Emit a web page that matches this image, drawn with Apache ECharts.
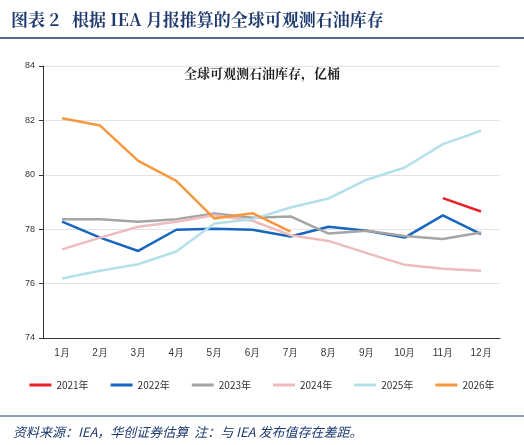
<!DOCTYPE html><html><head><meta charset="utf-8"><script src="https://cdn.jsdelivr.net/npm/echarts@6/dist/echarts.min.js"></script>
<style>body{margin:0;background:#fff}#c{width:524px;height:445px}</style></head><body><div id="c"></div><script>
const months=['1月','2月','3月','4月','5月','6月','7月','8月','9月','10月','11月','12月'];
const y2021=[null,null,null,null,null,null,null,null,null,null,79.14,78.65];
const y2022=[78.28,77.69,77.20,77.98,78.02,77.98,77.73,78.09,77.94,77.69,78.51,77.82];
const y2023=[78.37,78.37,78.27,78.37,78.58,78.42,78.47,77.84,77.94,77.75,77.64,77.88];
const y2024=[77.26,77.69,78.09,78.27,78.51,78.31,77.78,77.57,77.12,76.69,76.55,76.47];
const y2025=[76.19,76.47,76.71,77.18,78.21,78.37,78.80,79.13,79.82,80.27,81.13,81.62];
const y2026=[82.08,81.81,80.51,79.78,78.39,78.59,77.91,null,null,null,null,null];
const names=['2021年','2022年','2023年','2024年','2025年','2026年'];
const colors=['#e8202a','#1767c0','#a5a5a5','#efbcbc','#b4e0ea','#f7973f'];
const data=[y2021,y2022,y2023,y2024,y2025,y2026];
const c=echarts.init(document.getElementById('c'));
c.setOption({
 animation:false,
 title:[{text:'图表 2   根据 IEA 月报推算的全球可观测石油库存',left:6,top:6,textStyle:{fontFamily:'Noto Serif CJK SC, Noto Sans CJK SC',fontSize:17,fontWeight:'bold',color:'#1f3a6e'}},
  {text:'全球可观测石油库存，亿桶',left:'center',top:62,textStyle:{fontFamily:'Noto Serif CJK SC, Noto Sans CJK SC',fontSize:13,fontWeight:'bold',color:'#222'}},
  {text:'资料来源：IEA，华创证券估算  注：与 IEA 发布值存在差距。',left:8,top:421,textStyle:{fontFamily:'Noto Sans CJK SC',fontSize:13,fontWeight:'normal',fontStyle:'italic',color:'#1f3a6e'}}],
 graphic:[{type:'line',shape:{x1:0,y1:38,x2:524,y2:38},style:{stroke:'#1f3a6e',lineWidth:1.5}},
  {type:'line',shape:{x1:0,y1:416,x2:524,y2:416},style:{stroke:'#1f3a6e',lineWidth:1}}],
 legend:{top:375,left:'center',itemWidth:22,itemGap:22,icon:'rect',itemHeight:3,textStyle:{fontSize:10,color:'#333',fontFamily:'Noto Sans CJK SC'},data:names},
 grid:{left:43,right:24,top:66,bottom:107},
 xAxis:{type:'category',data:months,boundaryGap:true,axisTick:{show:false},axisLine:{lineStyle:{color:'#333'}},axisLabel:{fontSize:10,color:'#333',margin:10}},
 yAxis:{type:'value',min:74,max:84,interval:2,axisLine:{show:true,lineStyle:{color:'#333'}},axisTick:{show:true,length:4,inside:false},splitLine:{lineStyle:{color:'#e3e3e3'}},axisLabel:{fontSize:9,color:'#333'}},
 series:names.map((n,i)=>({name:n,type:'line',data:data[i],color:colors[i],symbol:'none',lineStyle:{width:2.5,color:colors[i]}}))
});
</script></body></html>
